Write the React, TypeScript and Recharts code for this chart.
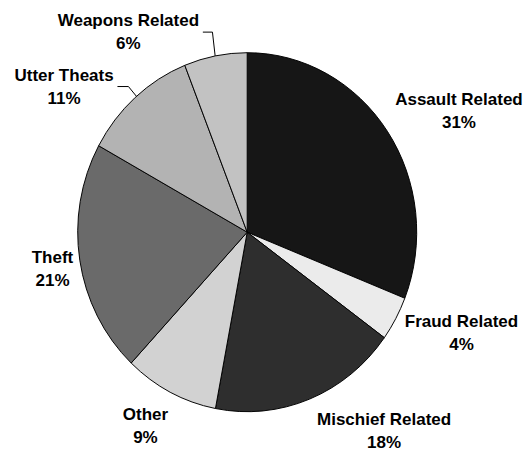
import React from 'react';
import { PieChart, Pie, Cell } from 'recharts';

const categories = ['Assault Related', 'Fraud Related', 'Mischief Related', 'Other', 'Theft', 'Utter Theats', 'Weapons Related'];
const percentages = [31, 4, 18, 9, 21, 11, 6];
const fills = ['#161616', '#ebebeb', '#2e2e2e', '#d2d2d2', '#6a6a6a', '#b3b3b3', '#c2c2c2'];

const data = categories.map((name, i) => ({ name, value: percentages[i] }));

// styling / layout constants
const W = 526;
const H = 450;
const CX = 247.2;
const CY = 232.2;
const R = 179.5;
const X_SCALE = 169.5 / 179.5;
const labelAngleShift = [4.5, -3.5, -12.9, 0.7, -1.8, -10.1, -19.9];
const labelDist = [243.8, 237, 241.7, 218.9, 198.2, 234, 232.7];
const leaderAngleShift: Record<number, number> = { 5: 0.6, 6: -0.1 };
const leaderElbowDx: Record<number, number> = { 5: 8, 6: 2.7 };
const leaderLen: Record<number, number> = { 5: 11, 6: 9.6 };

const FONT = '"Liberation Sans", Arial, sans-serif';

const renderLabel = (props: any) => {
  const { cx, cy, midAngle, index, value } = props;
  const name = categories[index];
  const thetaMid = 90 - midAngle;
  const theta = ((thetaMid + labelAngleShift[index]) * Math.PI) / 180;
  const lx = cx + labelDist[index] * Math.sin(theta);
  const ly = cy - labelDist[index] * Math.cos(theta);
  let leader = null;
  if (leaderAngleShift[index] !== undefined) {
    const te = ((thetaMid + leaderAngleShift[index]) * Math.PI) / 180;
    const ex = cx + X_SCALE * R * Math.sin(te);
    const ey = cy - R * Math.cos(te);
    const elbowX = ex - leaderElbowDx[index];
    const endX = elbowX - leaderLen[index];
    leader = (
      <path
        d={`M${endX},${ly} L${elbowX},${ly} L${ex},${ey}`}
        stroke="#000"
        strokeWidth={1}
        fill="none"
      />
    );
  }
  return (
    <g key={`lbl-${index}`}>
      {leader}
      <text
        x={lx}
        y={ly - 11.5}
        textAnchor="middle"
        dominantBaseline="central"
        fontFamily={FONT}
        fontWeight="bold"
        fontSize={17}
        fill="#000"
      >
        {name}
      </text>
      <text
        x={lx}
        y={ly + 11.5}
        textAnchor="middle"
        dominantBaseline="central"
        fontFamily={FONT}
        fontWeight="bold"
        fontSize={17}
        fill="#000"
      >
        {`${value}%`}
      </text>
    </g>
  );
};

export default function App() {
  return (
    <div style={{ position: 'absolute', left: 0, top: 0, width: W, height: H, background: '#fff' }}>
      <style>{`
        .squash-pie .recharts-sector {
          transform-box: view-box;
          transform-origin: ${CX}px ${CY}px;
          transform: scaleX(${X_SCALE});
        }
      `}</style>
      <PieChart
        width={W}
        height={H}
        className="squash-pie"
        margin={{ top: 0, right: 0, bottom: 0, left: 0 }}
      >
        <Pie
          data={data}
          dataKey="value"
          nameKey="name"
          cx={CX}
          cy={CY}
          outerRadius={R}
          innerRadius={0}
          startAngle={90}
          endAngle={-270}
          stroke="#000"
          strokeWidth={1}
          label={renderLabel}
          labelLine={false}
          isAnimationActive={false}
        >
          {data.map((d, i) => (
            <Cell key={d.name} fill={fills[i]} stroke="#000" strokeWidth={1} />
          ))}
        </Pie>
      </PieChart>
    </div>
  );
}
